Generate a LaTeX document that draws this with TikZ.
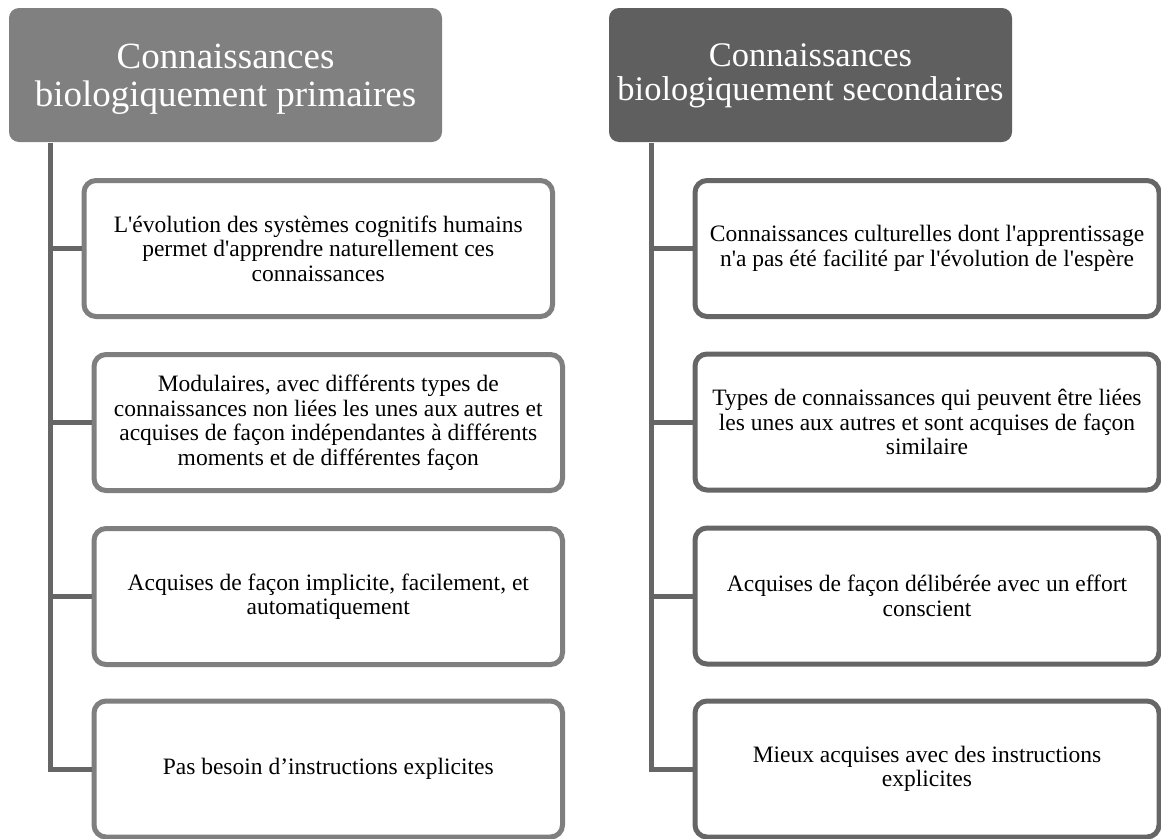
\documentclass[tikz,border=0pt]{standalone}
\usepackage{fontspec}
\setmainfont{Liberation Serif}[Ligatures=TeXOff]
\definecolor{hdrA}{HTML}{808080}
\definecolor{hdrB}{HTML}{5F5F5F}
\definecolor{lineA}{HTML}{666666}
\definecolor{boxA}{HTML}{7F7F7F}
\definecolor{boxB}{HTML}{666666}
\tikzset{
  hdr/.style={rectangle, rounded corners=10pt, minimum height=134pt, text=white, align=center,
    inner sep=0pt},
  item/.style={rectangle, draw, line width=5pt, rounded corners=12pt, fill=white,
    minimum height=136pt, align=center, font=\fontsize{23.5}{24.5}\selectfont, inner sep=0pt},
  itemA/.style={item, draw=boxA, minimum width=468.5pt},
  itemB/.style={item, draw=boxB, minimum width=464pt},
  conn/.style={draw=lineA, line width=5pt},
}
\begin{document}
\begin{tikzpicture}[x=1pt, y=-1pt]
\useasboundingbox (0,0) rectangle (1161,838);
\fill[white] (0,0) rectangle (1161,838);

% headers
\node[hdr, fill=hdrA, minimum width=433pt, font=\fontsize{37}{38}\selectfont,
      text height=70pt, text depth=8pt] (hL) at (225.5,75) {Connaissances\\biologiquement primaires};
\node[hdr, fill=hdrB, minimum width=403pt, font=\fontsize{34.5}{33.5}\selectfont,
      text height=60pt, text depth=10pt] (hR) at (810.5,75) {Connaissances\\biologiquement secondaires};

% trunk anchors
\coordinate (tL) at (50,143);
\coordinate (tR) at (651,143);

% left items
\node[itemA] (l1) at (318.25,248.5) {L'évolution des systèmes cognitifs humains\\permet d'apprendre naturellement ces\\connaissances};
\node[itemA] (l2) at (328.25,422.5) {Modulaires, avec différents types de\\connaissances non liées les unes aux autres et\\acquises de façon indépendantes à différents\\moments et de différentes façon};
\node[itemA] (l3) at (328.25,596.5) {Acquises de façon implicite, facilement, et\\automatiquement};
\node[itemA] (l4) at (328.25,769) {Pas besoin d’instructions explicites};

% right items
\node[itemB] (r1) at (927,248.5) {Connaissances culturelles dont l'apprentissage\\n'a pas été facilité par l'évolution de l'espère};
\node[itemB] (r2) at (927,422) {Types de connaissances qui peuvent être liées\\les unes aux autres et sont acquises de façon\\similaire};
\node[itemB] (r3) at (927,596) {Acquises de façon délibérée avec un effort\\conscient};
\node[itemB] (r4) at (927,769) {Mieux acquises avec des instructions\\explicites};

% connectors
\draw[conn] (tL) |- (l4.west);
\draw[conn] (tL) |- (l1.west);
\draw[conn] (tL) |- (l2.west);
\draw[conn] (tL) |- (l3.west);
\draw[conn] (tR) |- (r4.west);
\draw[conn] (tR) |- (r1.west);
\draw[conn] (tR) |- (r2.west);
\draw[conn] (tR) |- (r3.west);
\end{tikzpicture}
\end{document}
